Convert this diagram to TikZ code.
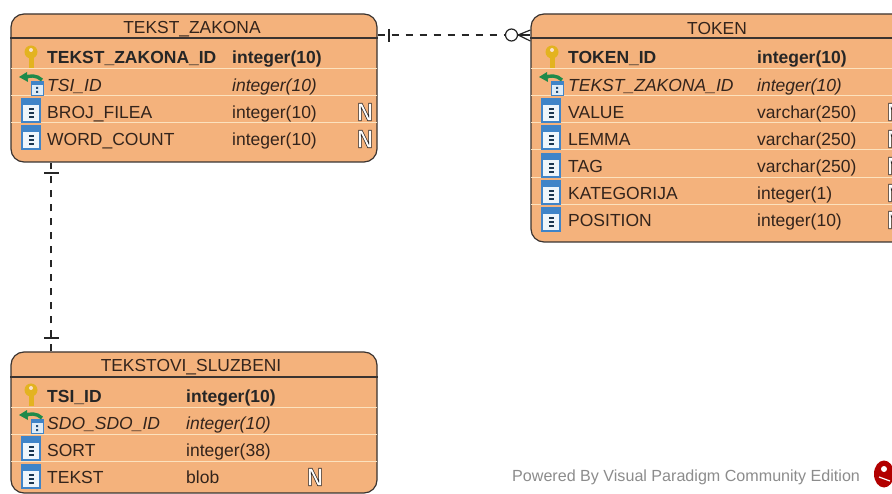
\documentclass[tikz,border=0pt]{standalone}
\usepackage{graphicx}
\usepackage{fontspec}
\setmainfont{Liberation Sans}
\definecolor{tblfill}{HTML}{F4B27C}
\definecolor{tblline}{HTML}{3A3330}
\definecolor{sepline}{HTML}{FCE2BE}
\definecolor{txt}{HTML}{33241C}
\definecolor{icoblue}{HTML}{3F84C8}
\definecolor{icopale}{HTML}{DCEBF7}
\definecolor{footgray}{HTML}{8C8C8C}
\definecolor{keygold}{HTML}{E3B320}
\definecolor{fkgreen}{HTML}{1F8A4A}
\newcommand{\outlineN}{\scalebox{1}[1.15]{{\color{white}\special{pdf:code 2 Tr 0.55 w 0.15 0.13 0.13 RG}N\special{pdf:code 0 Tr}}}}
\tikzset{
  tablebox/.style={draw=tblline,line width=1.2pt,fill=tblfill,rounded corners=13pt,inner sep=0pt},
  headtext/.style={text=txt,font=\fontsize{17.4}{19}\selectfont,inner sep=0pt},
  pktext/.style={anchor=west,text=black!85,font=\fontsize{17.5}{19}\selectfont\bfseries,inner sep=0pt,text height=15pt,text depth=2.4pt},
  fktext/.style={anchor=west,text=txt,font=\fontsize{17.5}{19}\selectfont\itshape,inner sep=0pt,text height=15pt,text depth=2.4pt},
  coltext/.style={anchor=west,text=txt,font=\fontsize{17.5}{19}\selectfont,inner sep=0pt,text height=15pt,text depth=2.4pt},
  nullbadge/.style={font=\fontsize{22}{22}\selectfont\bfseries,inner sep=0pt},
  relline/.style={draw=black!85,line width=1.2pt,dash pattern=on 7pt off 7pt},
  relmark/.style={draw=black!85,line width=1.2pt},
  keyicon/.pic={
    \fill[keygold] (-2.5,0) rectangle (2.5,11);
    \fill[keygold] (0,-5) circle (6.5);
    \fill[tblfill!40!white] (0,-7) circle (2);
  },
  fkicon/.pic={
    \fill[icopale] (0,-4) rectangle (12,10);
    \fill[icoblue] (0,-4) rectangle (12,0);
    \draw[icoblue,line width=.8pt] (0,-4) rectangle (12,10);
    \fill[icoblue!60!black] (5,2) rectangle (7,4) (5,6) rectangle (7,8);
    \draw[fkgreen,line width=3.4pt] (-6,-7) .. controls (-2,-10) and (6,-10) .. (11,-5);
    \fill[fkgreen] (-12,-8) -- (-4,-13) -- (-3,-3) -- cycle;
  },
  colicon/.pic={
    \fill[icopale!50!white] (-9,-12) rectangle (9,11);
    \fill[icoblue] (-9,-12) rectangle (9,-6);
    \draw[icoblue,line width=1.2pt] (-9,-12) rectangle (9,11);
    \draw[icoblue!40!black,line width=1.2pt] (-2,-2) -- (3,-2) (-2,2) -- (3,2) (-2,6) -- (3,6);
  },
}
\newcommand{\fld}[7]{%
  \node[#5] (#1n) at (#2,#4) {#6};
  \node[#5] (#1t) at (#3,#4) {#7};
}
\newcommand{\seprow}[2]{\draw[sepline,line width=1pt] ([xshift=1pt]#1.west |- 0,#2) -- ([xshift=-1pt]#1.east |- 0,#2);}
\newcommand{\headrow}[2]{\draw[tblline,line width=1.1pt] (#1.west |- 0,#2) -- (#1.east |- 0,#2);}
\begin{document}
\begin{tikzpicture}[x=1pt,y=-1pt]
\useasboundingbox (0,0) rectangle (892,494);
\clip (0,0) rectangle (892,494);
\fill[white] (0,0) rectangle (892,494);

% TEKST_ZAKONA
\node[tablebox,minimum width=366pt,minimum height=148pt] (tz) at (194,88) {};
\headrow{tz}{38}
\foreach \yy in {69,96,123} {\seprow{tz}{\yy}}
\node[headtext] (tztitle) at (192,29) {TEKST\_ZAKONA};
\pic at (31,57) {keyicon};
\pic at (31,85) {fkicon};
\pic at (31,111) {colicon};
\pic at (31,138) {colicon};
\fld{tza}{47}{232}{57}{pktext}{TEKST\_ZAKONA\_ID}{integer(10)}
\fld{tzb}{47}{232}{85}{fktext}{TSI\_ID}{integer(10)}
\fld{tzc}{47}{232}{112}{coltext}{BROJ\_FILEA}{integer(10)}
\fld{tzd}{47}{232}{139}{coltext}{WORD\_COUNT}{integer(10)}
\node[nullbadge] (tzcn) at (365,112) {\outlineN};
\node[nullbadge] (tzdn) at (365,139) {\outlineN};

% TOKEN
\node[tablebox,minimum width=380pt,minimum height=228pt] (tk) at (721,128) {};
\headrow{tk}{38}
\foreach \yy in {69,96,123,150,178,205} {\seprow{tk}{\yy}}
\node[headtext] (tktitle) at (717,29) {TOKEN};
\pic at (552,57) {keyicon};
\pic at (551,85) {fkicon};
\pic at (551,111) {colicon};
\pic at (551,138) {colicon};
\pic at (551,166) {colicon};
\pic at (551,193) {colicon};
\pic at (551,220) {colicon};
\fld{tka}{568}{757}{57}{pktext}{TOKEN\_ID}{integer(10)}
\fld{tkb}{568}{757}{85}{fktext}{TEKST\_ZAKONA\_ID}{integer(10)}
\fld{tkc}{568}{757}{112}{coltext}{VALUE}{varchar(250)}
\fld{tkd}{568}{757}{139}{coltext}{LEMMA}{varchar(250)}
\fld{tke}{568}{757}{166}{coltext}{TAG}{varchar(250)}
\fld{tkf}{568}{757}{193}{coltext}{KATEGORIJA}{integer(1)}
\fld{tkg}{568}{757}{220}{coltext}{POSITION}{integer(10)}
\foreach \yy/\nn in {112/c,139/d,166/e,193/f,220/g} {\node[nullbadge] (tk\nn n2) at (895,\yy) {\outlineN};}

% TEKSTOVI_SLUZBENI
\node[tablebox,minimum width=366pt,minimum height=141pt] (ts) at (194,422.5) {};
\headrow{ts}{377}
\foreach \yy in {407,434,461} {\seprow{ts}{\yy}}
\node[headtext] (tstitle) at (191,367) {TEKSTOVI\_SLUZBENI};
\pic at (31,395) {keyicon};
\pic at (31,423) {fkicon};
\pic at (31,449) {colicon};
\pic at (31,477) {colicon};
\fld{tsa}{47}{186}{396}{pktext}{TSI\_ID}{integer(10)}
\fld{tsb}{47}{186}{423}{fktext}{SDO\_SDO\_ID}{integer(10)}
\fld{tsc}{47}{186}{450}{coltext}{SORT}{integer(38)}
\fld{tsd}{47}{186}{477}{coltext}{TEKST}{blob}
\node[nullbadge] (tsdn) at (315,477) {\outlineN};

% Relationships
\node[circle,draw=black!85,line width=1.2pt,fill=white,minimum size=12pt,inner sep=0pt] (ring) at (511.5,35) {};
\draw[relline] (tz.east |- 0,35) -- (ring.west);
\draw[relmark] (ring.east) -- (tk.west |- 0,35);
\draw[relmark] (ring.east) -- (tk.west |- 0,30);
\draw[relmark] (ring.east) -- (tk.west |- 0,41);
\draw[relmark] (389,29) -- (389,42);
\draw[relline] (ts.north -| 51,0) -- (tz.south -| 51,0);
\draw[relmark] (44,173) -- (59,173);
\draw[relmark] (44,338) -- (59,338);

% Footer
\node[anchor=west,text=footgray,font=\fontsize{16.1}{18}\selectfont,inner sep=0pt] (foot) at (512,477) {Powered By Visual Paradigm Community Edition};
\fill[red!70!black] (884,474) ellipse (10 and 13.5);
\fill[white] (884,469) circle (3);
\draw[white,line width=1.2pt] (879,477) -- (890,481);
\end{tikzpicture}
\end{document}
